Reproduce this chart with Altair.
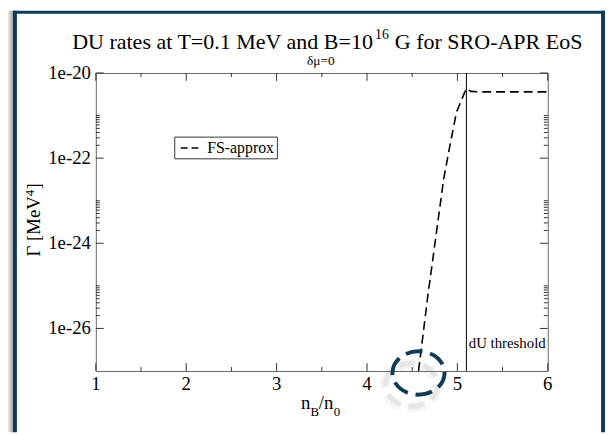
import altair as alt
import pandas as pd

# ---- data ----
nb = [4.57, 4.60, 4.67, 4.85, 4.92, 4.99, 5.07, 5.10, 5.15, 5.25, 5.50, 5.80, 6.00]
rate = [1.0e-27, 3.2e-27, 5.2e-26, 3.4e-23, 2.1e-22, 1.2e-21, 3.1e-21, 4.3e-21,
        3.7e-21, 3.6e-21, 3.6e-21, 3.6e-21, 3.6e-21]
threshold = [5.1]
x_major = [1, 2, 3, 4, 5, 6]
x_labels = ["1", "2", "3", "4", "5", "6"]
x_minor = [1.5, 2.5, 3.5, 4.5, 5.5]
y_major = [1e-20, 1e-22, 1e-24, 1e-26]
y_labels = ["1e-20", "1e-22", "1e-24", "1e-26"]
y_minor = [1e-21, 1e-23, 1e-25] + [k * 10.0 ** e for e in (-22, -24, -26) for k in range(2, 10)]

FONT = "Liberation Serif"
NAVY = "#0f3b57"
W, H = 458, 302

xs = alt.Scale(domain=[1, 6], nice=False, zero=False)
ys = alt.Scale(type="log", domain=[1e-27, 1e-20], nice=False)

one = pd.DataFrame({"a": [0]})

line = alt.Chart(pd.DataFrame({"nb": nb, "rate": rate})).mark_line(
    color="black", strokeDash=[9, 5], strokeWidth=1.6, clip=True
).encode(
    x=alt.X("nb:Q", scale=xs, axis=None),
    y=alt.Y("rate:Q", scale=ys, axis=None),
)

xlab = alt.Chart(pd.DataFrame({"v": x_major, "lab": x_labels})).mark_text(
    font=FONT, fontSize=19, baseline="middle", align="center", color="black"
).encode(x=alt.X("v:Q", scale=xs, axis=None), y=alt.value(H + 13), text="lab:N")

ylab = alt.Chart(pd.DataFrame({"v": y_major, "lab": y_labels})).mark_text(
    font=FONT, fontSize=19, baseline="middle", align="right", color="black"
).encode(y=alt.Y("v:Q", scale=ys, axis=None), x=alt.value(-5), text="lab:N")

def xticks(vals, y0, y1):
    return alt.Chart(pd.DataFrame({"v": vals})).mark_rule(color="#333", strokeWidth=1).encode(
        x=alt.X("v:Q", scale=xs, axis=None), y=alt.value(y0), y2=alt.value(y1))

def yticks(vals, x0, x1):
    return alt.Chart(pd.DataFrame({"v": vals})).mark_rule(color="#333", strokeWidth=1).encode(
        y=alt.Y("v:Q", scale=ys, axis=None), x=alt.value(x0), x2=alt.value(x1))

ticks = [
    xticks(x_major, H, H - 8), xticks(x_minor, H, H - 4),
    xticks(x_major, 0, 8), xticks(x_minor, 0, 4),
    yticks(y_major, 0, 8), yticks(y_minor, 0, 4),
    yticks(y_major, W, W - 8), yticks(y_minor, W, W - 4),
]

thr = alt.Chart(pd.DataFrame({"t": threshold})).mark_rule(color="black", strokeWidth=1).encode(
    x=alt.X("t:Q", scale=xs, axis=None), y=alt.value(0), y2=alt.value(H))

def rect(x0, x1, y0, y1, **kw):
    return alt.Chart(one).mark_rect(**kw).encode(
        x=alt.value(x0), x2=alt.value(x1), y=alt.value(y0), y2=alt.value(y1))

shadow = rect(-89, -84, -63, 364, color=alt.LinearGradient(
    gradient="linear", x1=0, x2=1, y1=0, y2=0,
    stops=[alt.GradientStop(color="#ececec", offset=0), alt.GradientStop(color="#a5a5a5", offset=1)]))
frame = [
    shadow,
    rect(-84, -80, -63, 364, color=NAVY),
    rect(512, 516, -63, 364, color=NAVY),
    rect(-84, 516, -63, -60, color=NAVY),
]

def text(t, x, y, size, align="left", baseline="alphabetic", angle=0, font=FONT):
    return alt.Chart(one).mark_text(
        text=t, font=font, fontSize=size, align=align, baseline=baseline, angle=angle, color="black"
    ).encode(x=alt.value(x), y=alt.value(y))

texts = [
    text("DU rates at T=0.1 MeV and B=10", -24, -24, 22.3),
    text("16", 283, -34, 14),
    text("G for SRO-APR EoS", 303, -24, 22.3),
    text("δμ=0", 228, -8, 13.5, align="center"),
    text("Γ [MeV", -57, 186, 19, angle=270),
    text("4", -63, 125, 13, angle=270),
    text("]", -57, 118, 19, angle=270),
    text("n", 208, 341, 19),
    text("B", 217.5, 348, 13),
    text("/n", 226, 341, 19),
    text("0", 241, 348, 13),
    text("dU threshold", 378, 274, 15, baseline="middle"),
]

legend = [
    rect(80, 184, 65, 87, fill="white", stroke="#333", strokeWidth=1),
    alt.Chart(one).mark_rule(color="black", strokeWidth=1.6, strokeDash=[7, 4]).encode(
        x=alt.value(86), x2=alt.value(104), y=alt.value(76)),
    text("FS-approx", 113, 76, 16, baseline="middle"),
]

ELL = "M -1.2 0 A 1.2 1 0 1 1 1.2 0 A 1.2 1 0 1 1 -1.2 0 Z"

def ellipse(x, y, color, width, opacity):
    return alt.Chart(one).mark_point(
        shape=ELL, size=1936, filled=False, color=color, strokeWidth=width,
        strokeDash=[17, 8], opacity=opacity, strokeCap="butt"
    ).encode(x=alt.value(x), y=alt.value(y))

ells = [
    ellipse(319, 317, "#999", 10, 0.10),
    ellipse(320, 316, "#999", 5, 0.15),
    ellipse(327, 304, NAVY, 4, 1),
]

chart = alt.layer(*frame, line, *ticks, thr, xlab, ylab, *legend, *texts, *ells).properties(
    width=W, height=H,
    autosize=alt.AutoSizeParams(type="none"),
    padding={"left": 89, "top": 63, "right": 58, "bottom": 62},
    background="white",
).configure_view(stroke="#666", strokeWidth=1)

chart.save("out.html", embed_options={"renderer": "svg", "actions": False})
